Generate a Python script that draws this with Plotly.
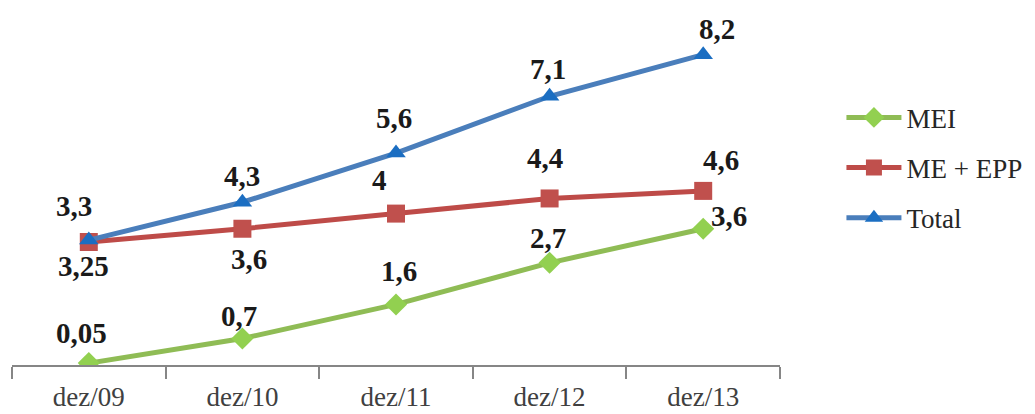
import plotly.graph_objects as go

categories = ["dez/09", "dez/10", "dez/11", "dez/12", "dez/13"]
mei = [0.05, 0.7, 1.6, 2.7, 3.6]
me_epp = [3.25, 3.6, 4, 4.4, 4.6]
total = [3.3, 4.3, 5.6, 7.1, 8.2]
series_names = ["MEI", "ME + EPP", "Total"]

SERIF = "'Liberation Serif', 'Times New Roman', serif"

def fmt(v):
    return ("%g" % v).replace(".", ",")

# label offsets in pixels (dx, dy up)
mei_off = [(-7, 30), (-3, 23), (3, 33), (-2, 25), (26, 13)]
epp_off = [(-5, -24), (7, -30), (-17, 34), (-5, 40), (18, 31)]
tot_off = [(-15, 34), (0, 26), (-2, 35), (-2, 27), (14, 26)]

fig = go.Figure()
styles = [
    (mei, "#8FBC55", "#92D050", "diamond", 17, mei_off),
    (me_epp, "#BE4B48", "#C0504D", "square", 18, epp_off),
    (total, "#4A7EBB", "#1B6EC2", "triangle-up", 17, tot_off),
]
annotations = []
for i, (vals, lc, mc, sym, sz, offs) in enumerate(styles):
    fig.add_trace(go.Scatter(
        x=categories, y=vals, name=series_names[i], mode="lines+markers",
        line=dict(color=lc, width=5),
        marker=dict(symbol=sym, size=sz, color=mc, line=dict(width=0)),
        legendgroup=series_names[i],
    ))
    for c, v, (dx, dy) in zip(categories, vals, offs):
        annotations.append(dict(
            x=c, y=v, xref="x", yref="y", text="<b>" + fmt(v) + "</b>", showarrow=False,
            xshift=dx, yshift=dy,
            font=dict(family=SERIF, size=29, color="#1a1a1a"),
        ))

fig.update_layout(
    width=1035, height=414,
    margin=dict(l=12, r=255, t=0, b=49),
    plot_bgcolor="white", paper_bgcolor="white",
    showlegend=True,
    legend=dict(
        x=1.08, y=0.54, xanchor="left", yanchor="middle",
        font=dict(family=SERIF, size=27, color="#262626"),
        traceorder="grouped", tracegroupgap=12, itemwidth=55,
        bgcolor="rgba(0,0,0,0)",
    ),
    annotations=annotations,
    xaxis=dict(
        type="category", range=[-0.5, 4.5],
        showline=True, linecolor="#868686", linewidth=2,
        ticks="outside", tickson="boundaries", ticklen=12, tickwidth=2, tickcolor="#868686",
        ticklabelstandoff=7,
        showgrid=False, zeroline=False,
        tickfont=dict(family=SERIF, size=27, color="#404040"),
    ),
    yaxis=dict(
        range=[0, 365 / 37.85], visible=False, showgrid=False, zeroline=False,
    ),
)

fig.write_html("out.html", config={"displayModeBar": False},
               post_script="document.body.style.margin='0';")
